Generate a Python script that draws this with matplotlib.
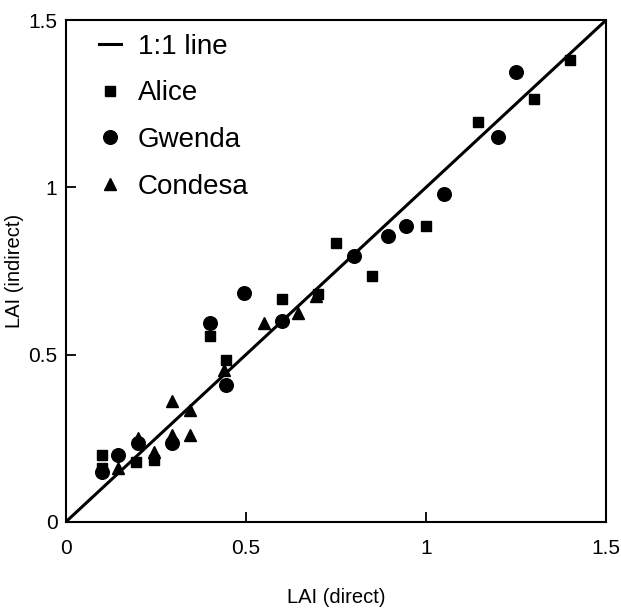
import matplotlib
matplotlib.use('Agg')
import matplotlib.pyplot as plt

# LAI direct vs indirect
alice_x = [0.10, 0.10, 0.195, 0.245, 0.40, 0.445, 0.60, 0.70, 0.75, 0.85, 1.00, 1.145, 1.30, 1.40]
alice_y = [0.20, 0.16, 0.18, 0.185, 0.555, 0.485, 0.665, 0.68, 0.835, 0.735, 0.885, 1.195, 1.265, 1.38]

gwenda_x = [0.10, 0.145, 0.20, 0.295, 0.40, 0.445, 0.495, 0.60, 0.80, 0.895, 0.945, 1.05, 1.20, 1.25]
gwenda_y = [0.15, 0.20, 0.235, 0.235, 0.595, 0.41, 0.685, 0.60, 0.795, 0.855, 0.885, 0.98, 1.15, 1.345]

condesa_x = [0.145, 0.20, 0.245, 0.295, 0.295, 0.345, 0.345, 0.44, 0.55, 0.645, 0.695]
condesa_y = [0.16, 0.25, 0.21, 0.26, 0.36, 0.26, 0.335, 0.455, 0.595, 0.625, 0.675]

xticks = [0, 0.5, 1, 1.5]
xticklabels = ['0', '0.5', '1', '1.5']

plt.rcParams['font.family'] = ['Liberation Sans', 'DejaVu Sans']

fig = plt.figure(figsize=(6.21, 6.09), dpi=100)
ax = fig.add_axes([0.106, 0.143, 0.87, 0.824])

ax.plot([0, 1.5], [0, 1.5], '-', color='black', lw=2.2, label='1:1 line')
ax.plot(alice_x, alice_y, 's', color='black', ms=7, label='Alice')
ax.plot(gwenda_x, gwenda_y, 'o', color='black', ms=9.8, label='Gwenda')
ax.plot(condesa_x, condesa_y, '^', color='black', ms=9, label='Condesa')

ax.set_xlim(0, 1.5)
ax.set_ylim(0, 1.5)
ax.set_xticks(xticks)
ax.set_xticklabels(xticklabels)
ax.set_yticks(xticks)
ax.set_yticklabels(xticklabels)
ax.tick_params(direction='in', length=7, width=1.3, labelsize=15, colors='black')
ax.tick_params(axis='x', pad=12)
ax.tick_params(axis='y', pad=6)
for s in ax.spines.values():
    s.set_linewidth(1.5)

ax.set_xlabel('LAI (direct)', fontsize=14.5, labelpad=22)
ax.set_ylabel('LAI (indirect)', fontsize=14.5, labelpad=3)

ax.legend(loc='upper left', frameon=False, fontsize=20, handlelength=0.8,
          handletextpad=0.6, labelspacing=0.75, borderaxespad=0.3,
          bbox_to_anchor=(0.025, 1.012))

fig.savefig('out.png', dpi=100)
